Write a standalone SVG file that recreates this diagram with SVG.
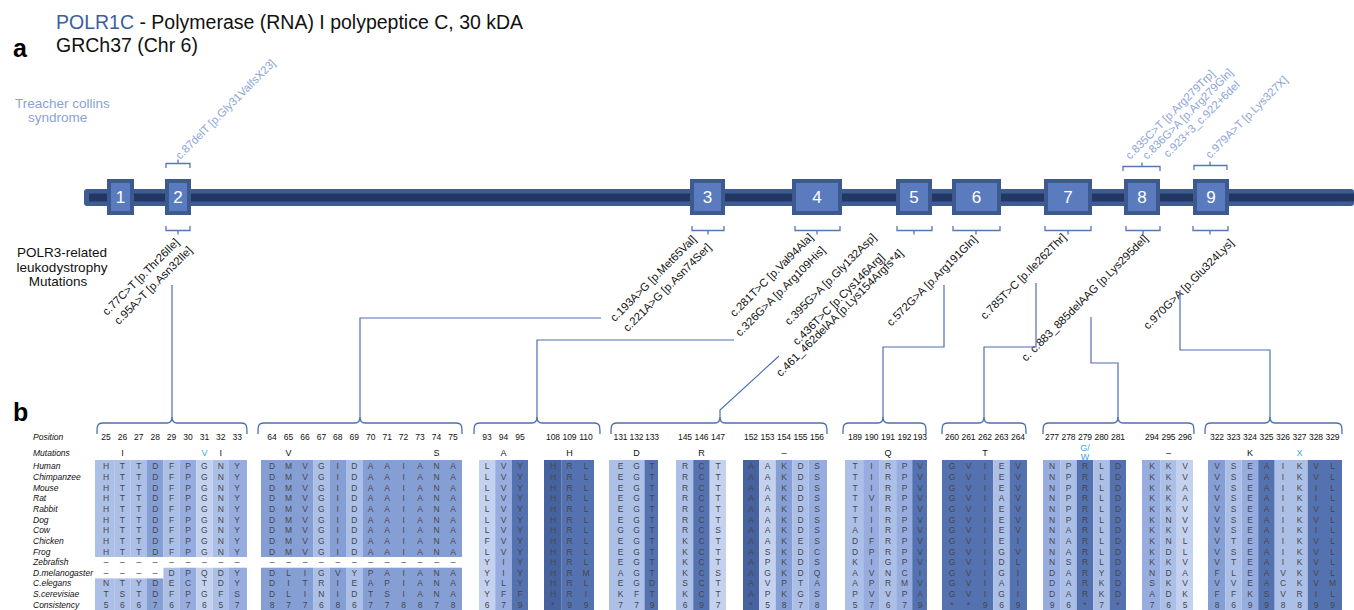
<svg xmlns="http://www.w3.org/2000/svg" width="1354" height="610" viewBox="0 0 1354 610">
<defs>
<style>
text{font-family:"Liberation Sans",Arial,sans-serif}
.ttl{font-size:19.5px;fill:#111}
.big{font-size:25px;font-weight:bold;fill:#000}
.tcs{font-size:13.5px;fill:#8aa3d8}
.plr{font-size:13.5px;fill:#111;text-anchor:middle}
.tc{font-size:11.3px;fill:#8ca4d8}
.mu{font-size:11.3px;fill:#111}
.ex{fill:#5a7cbf;stroke:#3c5990;stroke-width:4}
.exn{font-size:17px;fill:#fff;text-anchor:middle}
.sb{fill:none;stroke:#5577b8;stroke-width:1.3}
.conn{fill:none;stroke:#4c6fb4;stroke-width:1.2}
.br{fill:none;stroke:#4c6fb4;stroke-width:1.3}
.lab{font-size:8.5px;font-style:italic;fill:#111}
.pos text{font-size:8.5px;fill:#111;text-anchor:middle}
.mk{font-size:9px;fill:#111;text-anchor:middle}
.cy{fill:#3aa8e0}
.seq text{font-size:8.5px;fill:#474747;text-anchor:middle}
.L1{fill:#c4d2ef}.L2{fill:#acbfe7}.L3{fill:#97ade0}.L4{fill:#859fd5}.D1{fill:#5572b0}.D2{fill:#46639f}
</style>
</defs>
<rect width="1354" height="610" fill="#fff"/>
<g id="header">
<text class="ttl" x="56" y="29"><tspan fill="#3b5ea0">POLR1C</tspan> - Polymerase (RNA) I polypeptice C, 30 kDA</text>
<text class="ttl" x="56" y="52">GRCh37 (Chr 6)</text>
<text class="big" x="13" y="57">a</text>
<text class="big" x="13" y="421">b</text>
<text class="tcs" x="15" y="108">Treacher collins</text>
<text class="tcs" x="28" y="122">syndrome</text>
<text class="plr" x="62" y="257">POLR3-related</text>
<text class="plr" x="62" y="271.5">leukodystrophy</text>
<text class="plr" x="58" y="286">Mutations</text>
</g>
<g id="gene">
<rect x="84" y="189" width="1270" height="17" rx="3" fill="#3e5c93"/>
<rect x="89" y="193.5" width="1265" height="8" fill="#223862"/>
<g id="exon1"><rect class="ex" x="109" y="181" width="23" height="32"/><text class="exn" x="120.5" y="203">1</text></g>
<g id="exon2"><rect class="ex" x="167" y="181" width="22" height="32"/><text class="exn" x="178" y="203">2</text></g>
<g id="exon3"><rect class="ex" x="692" y="181" width="31" height="32"/><text class="exn" x="707.5" y="203">3</text></g>
<g id="exon4"><rect class="ex" x="794" y="181" width="46" height="32"/><text class="exn" x="817" y="203">4</text></g>
<g id="exon5"><rect class="ex" x="898" y="181" width="32" height="32"/><text class="exn" x="914" y="203">5</text></g>
<g id="exon6"><rect class="ex" x="954" y="181" width="45" height="32"/><text class="exn" x="976.5" y="203">6</text></g>
<g id="exon7"><rect class="ex" x="1046" y="181" width="44" height="32"/><text class="exn" x="1068" y="203">7</text></g>
<g id="exon8"><rect class="ex" x="1126" y="181" width="32" height="32"/><text class="exn" x="1142" y="203">8</text></g>
<g id="exon9"><rect class="ex" x="1195" y="181" width="32" height="32"/><text class="exn" x="1211" y="203">9</text></g>
</g>
<g id="exon-brackets">
<path class="sb" d="M166,168 V163.5 H190 V168 M178,163.5 V159.5"/>
<path class="sb" d="M1123,171 V166.5 H1160 V171 M1142,166.5 V162.5"/>
<path class="sb" d="M1194,170 V165.5 H1227 V170 M1210,165.5 V161.5"/>
<path class="sb" d="M166,226 V230.5 H190 V226 M178,230.5 V234.5"/>
<path class="sb" d="M692,226 V230.5 H724 V226 M708,230.5 V234.5"/>
<path class="sb" d="M795,226 V230.5 H840 V226 M817,230.5 V234.5"/>
<path class="sb" d="M897,226 V230.5 H932 V226 M914,230.5 V234.5"/>
<path class="sb" d="M953,226 V230.5 H1000 V226 M976,230.5 V234.5"/>
<path class="sb" d="M1045,226 V230.5 H1091 V226 M1068,230.5 V234.5"/>
<path class="sb" d="M1126,226 V230.5 H1160 V226 M1143,230.5 V234.5"/>
<path class="sb" d="M1193,226 V230.5 H1228 V226 M1210,230.5 V234.5"/>
</g>
<g id="labels-tcs">
<text class="tc" transform="translate(180,160) rotate(-45)">c.87delT [p.Gly31ValfsX23]</text>
<text class="tc" transform="translate(1130,160) rotate(-45)">c.835C&gt;T [p.Arg279Trp]</text>
<text class="tc" transform="translate(1147,160) rotate(-45)">c.836G&gt;A [p.Arg279Gln]</text>
<text class="tc" transform="translate(1168,158) rotate(-45)">c.923+3_c.922+6del</text>
<text class="tc" transform="translate(1210,159) rotate(-45)">c.979A&gt;T [p.Lys327X]</text>
</g>
<g id="labels-polr3">
<text class="mu" text-anchor="end" transform="translate(180,243) rotate(-45)">c.77C&gt;T [p.Thr26Ile]</text>
<text class="mu" text-anchor="end" transform="translate(193,251) rotate(-45)">c.95A&gt;T [p.Asn32Ile]</text>
<text class="mu" text-anchor="end" transform="translate(697,240) rotate(-45)">c.193A&gt;G [p.Met65Val]</text>
<text class="mu" text-anchor="end" transform="translate(712,248) rotate(-45)">c.221A&gt;G [p.Asn74Ser]</text>
<text class="mu" text-anchor="end" transform="translate(814,238) rotate(-45)">c.281T&gt;C [p.Val94Ala]</text>
<text class="mu" text-anchor="end" transform="translate(826,251) rotate(-45)">c.326G&gt;A [p.Arg109His]</text>
<text class="mu" text-anchor="end" transform="translate(877,238) rotate(-45)">c.395G&gt;A [p.Gly132Asp]</text>
<text class="mu" text-anchor="end" transform="translate(885,258) rotate(-45)">c.436T&gt;C [p.Cys146Arg]</text>
<text class="mu" text-anchor="end" transform="translate(904,254) rotate(-45)">c.461_462delAA [p.Lys154Argfs*4]</text>
<text class="mu" text-anchor="end" transform="translate(978,240) rotate(-45)">c.572G&gt;A [p.Arg191Gln]</text>
<text class="mu" text-anchor="end" transform="translate(1067,238) rotate(-45)">c.785T&gt;C [p.Ile262Thr]</text>
<text class="mu" transform="translate(1026,362) rotate(-45)">c. c.883_885delAAG [p.Lys295del]</text>
<text class="mu" transform="translate(1148,330) rotate(-45)">c.970G&gt;A [p.Glu324Lys]</text>
</g>
<g id="connectors">
<path class="conn" d="M172,285 V418"/>
<path class="conn" d="M601,318 H360 V418"/>
<path class="conn" d="M734,340 H537 V418"/>
<path class="conn" d="M779,356 L720,410 V418"/>
<path class="conn" d="M944,285 V347 H883 V418"/>
<path class="conn" d="M1036,283 V347 H984 V418"/>
<path class="conn" d="M1091,317 V363 H1118 V418"/>
<path class="conn" d="M1180,290 V350 H1270 V418"/>
</g>
<g id="braces">
<path class="br" d="M97,434 C97,426 97,423 103,423 H167 C171,423 172,421 172,417 C172,421 173,423 177,423 H241 C247,423 247,426 247,434"/>
<path class="br" d="M258,434 C258,426 258,423 264,423 H355 C359,423 360,421 360,417 C360,421 361,423 365,423 H456 C462,423 462,426 462,434"/>
<path class="br" d="M474,434 C474,426 474,423 480,423 H532 C536,423 537,421 537,417 C537,421 538,423 542,423 H594 C600,423 600,426 600,434"/>
<path class="br" d="M611,434 C611,426 611,423 617,423 H715 C719,423 720,421 720,417 C720,421 721,423 725,423 H821 C827,423 827,426 827,434"/>
<path class="br" d="M843,434 C843,426 843,423 849,423 H878 C882,423 883,421 883,417 C883,421 884,423 888,423 H920 C926,423 926,426 926,434"/>
<path class="br" d="M942,434 C942,426 942,423 948,423 H979 C983,423 984,421 984,417 C984,421 985,423 989,423 H1020 C1026,423 1026,426 1026,434"/>
<path class="br" d="M1043,434 C1043,426 1043,423 1049,423 H1113 C1117,423 1118,421 1118,417 C1118,421 1119,423 1123,423 H1188 C1194,423 1194,426 1194,434"/>
<path class="br" d="M1205,434 C1205,426 1205,423 1211,423 H1265 C1269,423 1270,421 1270,417 C1270,421 1271,423 1275,423 H1336 C1342,423 1342,426 1342,434"/>
</g>
<g id="row-labels">
<text class="lab" x="33" y="440">Position</text>
<text class="lab" x="33" y="456">Mutations</text>
<text class="lab" x="33" y="469.3">Human</text>
<text class="lab" x="33" y="479.95">Chimpanzee</text>
<text class="lab" x="33" y="490.6">Mouse</text>
<text class="lab" x="33" y="501.25">Rat</text>
<text class="lab" x="33" y="511.9">Rabbit</text>
<text class="lab" x="33" y="522.55">Dog</text>
<text class="lab" x="33" y="533.2">Cow</text>
<text class="lab" x="33" y="543.85">Chicken</text>
<text class="lab" x="33" y="554.5">Frog</text>
<text class="lab" x="33" y="565.15">Zebrafish</text>
<text class="lab" x="33" y="575.8">D.melanogaster</text>
<text class="lab" x="33" y="586.45">C.elegans</text>
<text class="lab" x="33" y="597.1">S.cerevisiae</text>
<text class="lab" x="33" y="607.75">Consistency</text>
</g>
<g id="shading">
<rect class="L2" x="95" y="460" width="19.2" height="97"/><rect class="L2" x="114.2" y="460" width="16.4" height="97"/><rect class="L2" x="130.6" y="460" width="16.4" height="97"/><rect class="L4" x="147" y="460" width="16.4" height="97"/><rect class="L2" x="163.4" y="460" width="16.4" height="97"/><rect class="L3" x="179.8" y="460" width="16.4" height="97"/><rect class="L1" x="196.2" y="460" width="16.4" height="97"/><rect class="L2" x="212.6" y="460" width="16.4" height="97"/><rect class="L3" x="229" y="460" width="18" height="97"/>
<rect class="L2" x="95" y="578.4" width="19.2" height="32"/><rect class="L2" x="114.2" y="578.4" width="16.4" height="32"/><rect class="L2" x="130.6" y="578.4" width="16.4" height="32"/><rect class="L4" x="147" y="578.4" width="16.4" height="32"/><rect class="L2" x="163.4" y="567.7" width="16.4" height="43"/><rect class="L3" x="179.8" y="567.7" width="16.4" height="43"/><rect class="L1" x="196.2" y="567.7" width="16.4" height="43"/><rect class="L2" x="212.6" y="567.7" width="16.4" height="43"/><rect class="L3" x="229" y="567.7" width="18" height="43"/>
<rect class="L4" x="261" y="460" width="52.1" height="97"/><rect class="L2" x="313.1" y="460" width="16.5" height="97"/><rect class="L4" x="329.6" y="460" width="16.4" height="97"/><rect class="L2" x="346" y="460" width="16.5" height="97"/><rect class="L4" x="362.5" y="460" width="99.5" height="97"/>
<rect class="L4" x="261" y="567.7" width="52.1" height="43"/><rect class="L2" x="313.1" y="567.7" width="16.5" height="43"/><rect class="L4" x="329.6" y="567.7" width="16.4" height="43"/><rect class="L2" x="346" y="567.7" width="16.5" height="43"/><rect class="L4" x="362.5" y="567.7" width="99.5" height="43"/>
<rect class="L1" x="479" y="460" width="16.2" height="150"/><rect class="L3" x="495.2" y="460" width="16.5" height="150"/><rect class="D1" x="511.7" y="460" width="16.3" height="150"/>
<rect class="D2" x="544" y="460" width="17.2" height="150"/><rect class="D1" x="561.2" y="460" width="32.8" height="150"/>
<rect class="L2" x="609" y="460" width="35.5" height="150"/><rect class="D1" x="644.5" y="460" width="13.5" height="150"/>
<rect class="L2" x="676" y="460" width="17.2" height="150"/><rect class="D1" x="693.2" y="460" width="16.5" height="150"/><rect class="L1" x="709.7" y="460" width="16.3" height="150"/>
<rect class="D2" x="743" y="460" width="16.2" height="150"/><rect class="L1" x="759.2" y="460" width="16.5" height="150"/><rect class="L4" x="775.7" y="460" width="16.5" height="150"/><rect class="L2" x="792.2" y="460" width="16.5" height="150"/><rect class="L3" x="808.7" y="460" width="18.3" height="150"/>
<rect class="L2" x="845" y="460" width="18.2" height="150"/><rect class="L3" x="863.2" y="460" width="16.5" height="150"/><rect class="L2" x="879.7" y="460" width="16.5" height="150"/><rect class="L3" x="896.2" y="460" width="16" height="150"/><rect class="D1" x="912.2" y="460" width="14.8" height="150"/>
<rect class="D1" x="942" y="460" width="51.2" height="150"/><rect class="L2" x="993.2" y="460" width="16.5" height="150"/><rect class="D1" x="1009.7" y="460" width="17.3" height="150"/>
<rect class="L3" x="1043" y="460" width="17.2" height="150"/><rect class="L2" x="1060.2" y="460" width="16.5" height="150"/><rect class="D1" x="1076.7" y="460" width="16.5" height="150"/><rect class="L2" x="1093.2" y="460" width="16.5" height="150"/><rect class="D1" x="1109.7" y="460" width="16.3" height="150"/>
<rect class="L3" x="1142" y="460" width="18.2" height="150"/><rect class="L2" x="1160.2" y="460" width="16.5" height="150"/><rect class="L1" x="1176.7" y="460" width="16.3" height="150"/>
<rect class="L4" x="1208" y="460" width="17.2" height="150"/><rect class="L2" x="1225.2" y="460" width="16.5" height="150"/><rect class="L3" x="1241.7" y="460" width="16.5" height="150"/><rect class="D1" x="1258.2" y="460" width="16.5" height="150"/><rect class="L2" x="1274.7" y="460" width="33" height="150"/><rect class="D1" x="1307.7" y="460" width="34.3" height="150"/>
</g>
<g id="positions" class="pos">
<text x="106" y="440">25</text><text x="122.4" y="440">26</text><text x="138.8" y="440">27</text><text x="155.2" y="440">28</text><text x="171.6" y="440">29</text><text x="188" y="440">30</text><text x="204.4" y="440">31</text><text x="220.8" y="440">32</text><text x="237.2" y="440">33</text>
<text x="272" y="440">64</text><text x="288.5" y="440">65</text><text x="305" y="440">66</text><text x="321.4" y="440">67</text><text x="337.8" y="440">68</text><text x="354.3" y="440">69</text><text x="370.7" y="440">70</text><text x="387.2" y="440">71</text><text x="403.6" y="440">72</text><text x="420.1" y="440">73</text><text x="436.5" y="440">74</text><text x="453" y="440">75</text>
<text x="487" y="440">93</text><text x="503.5" y="440">94</text><text x="520" y="440">95</text>
<text x="553" y="440">108</text><text x="569.5" y="440">109</text><text x="586" y="440">110</text>
<text x="620.5" y="440">131</text><text x="636.5" y="440">132</text><text x="652" y="440">133</text>
<text x="685" y="440">145</text><text x="701.5" y="440">146</text><text x="718" y="440">147</text>
<text x="751" y="440">152</text><text x="767.5" y="440">153</text><text x="784" y="440">154</text><text x="800.5" y="440">155</text><text x="817" y="440">156</text>
<text x="855" y="440">189</text><text x="871.5" y="440">190</text><text x="888" y="440">191</text><text x="904.5" y="440">192</text><text x="920" y="440">193</text>
<text x="952" y="440">260</text><text x="968.5" y="440">261</text><text x="985" y="440">262</text><text x="1001.5" y="440">263</text><text x="1018" y="440">264</text>
<text x="1052" y="440">277</text><text x="1068.5" y="440">278</text><text x="1085" y="440">279</text><text x="1101.5" y="440">280</text><text x="1118" y="440">281</text>
<text x="1152" y="440">294</text><text x="1168.5" y="440">295</text><text x="1185" y="440">296</text>
<text x="1217" y="440">322</text><text x="1233.5" y="440">323</text><text x="1250" y="440">324</text><text x="1266.5" y="440">325</text><text x="1283" y="440">326</text><text x="1299.5" y="440">327</text><text x="1316" y="440">328</text><text x="1332.5" y="440">329</text>
</g>
<g id="mutation-marks">
<text class="mk" x="122.4" y="456">I</text><text class="mk cy" x="204.4" y="456">V</text><text class="mk" x="220.8" y="456">I</text>
<text class="mk" x="288.5" y="456">V</text><text class="mk" x="436.5" y="456">S</text>
<text class="mk" x="503.5" y="456">A</text><text class="mk" x="569.5" y="456">H</text><text class="mk" x="636.5" y="456">D</text><text class="mk" x="701.5" y="456">R</text><text class="mk" x="784" y="456">–</text>
<text class="mk" x="888" y="456">Q</text><text class="mk" x="985" y="456">T</text>
<text class="mk cy" x="1085" y="451">G/</text><text class="mk cy" x="1085" y="460">W</text>
<text class="mk" x="1168.5" y="456">–</text><text class="mk" x="1250" y="456">K</text><text class="mk cy" x="1299.5" y="456">X</text>
</g>
<g id="seq-g1" class="seq">
<text x="106 122.4 138.8 155.2 171.6 188 204.4 220.8 237.2" y="469.3">HTTDFPGNY</text>
<text x="106 122.4 138.8 155.2 171.6 188 204.4 220.8 237.2" y="479.95">HTTDFPGNY</text>
<text x="106 122.4 138.8 155.2 171.6 188 204.4 220.8 237.2" y="490.6">HTTDFPGNY</text>
<text x="106 122.4 138.8 155.2 171.6 188 204.4 220.8 237.2" y="501.25">HTTDFPGNY</text>
<text x="106 122.4 138.8 155.2 171.6 188 204.4 220.8 237.2" y="511.9">HTTDFPGNY</text>
<text x="106 122.4 138.8 155.2 171.6 188 204.4 220.8 237.2" y="522.55">HTTDFPGNY</text>
<text x="106 122.4 138.8 155.2 171.6 188 204.4 220.8 237.2" y="533.2">HTTDFPGNY</text>
<text x="106 122.4 138.8 155.2 171.6 188 204.4 220.8 237.2" y="543.85">HTTDFPGNY</text>
<text x="106 122.4 138.8 155.2 171.6 188 204.4 220.8 237.2" y="554.5">HTTDFPGNY</text>
<text x="106 122.4 138.8 155.2 171.6 188 204.4 220.8 237.2" y="565.15" fill="#111">–––––––––</text>
<text x="106 122.4 138.8 155.2 171.6 188 204.4 220.8 237.2" y="575.8">––––DPQDY</text>
<text x="106 122.4 138.8 155.2 171.6 188 204.4 220.8 237.2" y="586.45">NTYDECTDY</text>
<text x="106 122.4 138.8 155.2 171.6 188 204.4 220.8 237.2" y="597.1">TSTDFPGFS</text>
<text x="106 122.4 138.8 155.2 171.6 188 204.4 220.8 237.2" y="607.75">566767657</text>
</g>
<g id="seq-g2" class="seq">
<text x="272 288.5 305 321.4 337.8 354.3 370.7 387.2 403.6 420.1 436.5 453" y="469.3">DMVGIDAAIANA</text>
<text x="272 288.5 305 321.4 337.8 354.3 370.7 387.2 403.6 420.1 436.5 453" y="479.95">DMVGIDAAIANA</text>
<text x="272 288.5 305 321.4 337.8 354.3 370.7 387.2 403.6 420.1 436.5 453" y="490.6">DMVGIDAAIANA</text>
<text x="272 288.5 305 321.4 337.8 354.3 370.7 387.2 403.6 420.1 436.5 453" y="501.25">DMVGIDAAIANA</text>
<text x="272 288.5 305 321.4 337.8 354.3 370.7 387.2 403.6 420.1 436.5 453" y="511.9">DMVGIDAAIANA</text>
<text x="272 288.5 305 321.4 337.8 354.3 370.7 387.2 403.6 420.1 436.5 453" y="522.55">DMVGIDAAIANA</text>
<text x="272 288.5 305 321.4 337.8 354.3 370.7 387.2 403.6 420.1 436.5 453" y="533.2">DMVGIDAAIANA</text>
<text x="272 288.5 305 321.4 337.8 354.3 370.7 387.2 403.6 420.1 436.5 453" y="543.85">DMVGIDAAIANA</text>
<text x="272 288.5 305 321.4 337.8 354.3 370.7 387.2 403.6 420.1 436.5 453" y="554.5">DMVGIDAAIANA</text>
<text x="272 288.5 305 321.4 337.8 354.3 370.7 387.2 403.6 420.1 436.5 453" y="565.15" fill="#111">––––––––––––</text>
<text x="272 288.5 305 321.4 337.8 354.3 370.7 387.2 403.6 420.1 436.5 453" y="575.8">DLIGVYPAIANA</text>
<text x="272 288.5 305 321.4 337.8 354.3 370.7 387.2 403.6 420.1 436.5 453" y="586.45">DITRIEAPIANA</text>
<text x="272 288.5 305 321.4 337.8 354.3 370.7 387.2 403.6 420.1 436.5 453" y="597.1">DLINIDTSIANA</text>
<text x="272 288.5 305 321.4 337.8 354.3 370.7 387.2 403.6 420.1 436.5 453" y="607.75">877686778878</text>
</g>
<g id="seq-g3" class="seq">
<text x="487 503.5 520" y="469.3">LVY</text><text x="487 503.5 520" y="479.95">LVY</text><text x="487 503.5 520" y="490.6">LVY</text><text x="487 503.5 520" y="501.25">LVY</text><text x="487 503.5 520" y="511.9">LVY</text><text x="487 503.5 520" y="522.55">LVY</text><text x="487 503.5 520" y="533.2">LVY</text><text x="487 503.5 520" y="543.85">FVY</text><text x="487 503.5 520" y="554.5">LVY</text><text x="487 503.5 520" y="565.15">YIY</text><text x="487 503.5 520" y="575.8">YIY</text><text x="487 503.5 520" y="586.45">YLY</text><text x="487 503.5 520" y="597.1">YFF</text><text x="487 503.5 520" y="607.75">679</text>
</g>
<g id="seq-g4" class="seq">
<text x="553 569.5 586" y="469.3">HRL</text><text x="553 569.5 586" y="479.95">HRL</text><text x="553 569.5 586" y="490.6">HRL</text><text x="553 569.5 586" y="501.25">HRL</text><text x="553 569.5 586" y="511.9">HRL</text><text x="553 569.5 586" y="522.55">HRL</text><text x="553 569.5 586" y="533.2">HRL</text><text x="553 569.5 586" y="543.85">HRL</text><text x="553 569.5 586" y="554.5">HRL</text><text x="553 569.5 586" y="565.15">HRL</text><text x="553 569.5 586" y="575.8">HRM</text><text x="553 569.5 586" y="586.45">HRL</text><text x="553 569.5 586" y="597.1">HRI</text><text x="553 569.5 586" y="607.75">*99</text>
</g>
<g id="seq-g5" class="seq">
<text x="620.5 636.5 652" y="469.3">EGT</text><text x="620.5 636.5 652" y="479.95">EGT</text><text x="620.5 636.5 652" y="490.6">EGT</text><text x="620.5 636.5 652" y="501.25">EGT</text><text x="620.5 636.5 652" y="511.9">EGT</text><text x="620.5 636.5 652" y="522.55">EGT</text><text x="620.5 636.5 652" y="533.2">GGT</text><text x="620.5 636.5 652" y="543.85">EGT</text><text x="620.5 636.5 652" y="554.5">EGT</text><text x="620.5 636.5 652" y="565.15">EGT</text><text x="620.5 636.5 652" y="575.8">AGT</text><text x="620.5 636.5 652" y="586.45">EGD</text><text x="620.5 636.5 652" y="597.1">KFT</text><text x="620.5 636.5 652" y="607.75">779</text>
</g>
<g id="seq-g6" class="seq">
<text x="685 701.5 718" y="469.3">RCT</text><text x="685 701.5 718" y="479.95">RCT</text><text x="685 701.5 718" y="490.6">RCT</text><text x="685 701.5 718" y="501.25">RCT</text><text x="685 701.5 718" y="511.9">RCT</text><text x="685 701.5 718" y="522.55">RCT</text><text x="685 701.5 718" y="533.2">RCS</text><text x="685 701.5 718" y="543.85">KCT</text><text x="685 701.5 718" y="554.5">KCT</text><text x="685 701.5 718" y="565.15">KCT</text><text x="685 701.5 718" y="575.8">KCS</text><text x="685 701.5 718" y="586.45">SCT</text><text x="685 701.5 718" y="597.1">KCT</text><text x="685 701.5 718" y="607.75">697</text>
</g>
<g id="seq-g7" class="seq">
<text x="751 767.5 784 800.5 817" y="469.3">AAKDS</text><text x="751 767.5 784 800.5 817" y="479.95">AAKDS</text><text x="751 767.5 784 800.5 817" y="490.6">AAKDS</text><text x="751 767.5 784 800.5 817" y="501.25">AAKDS</text><text x="751 767.5 784 800.5 817" y="511.9">AAKDS</text><text x="751 767.5 784 800.5 817" y="522.55">AAKDS</text><text x="751 767.5 784 800.5 817" y="533.2">AAKDS</text><text x="751 767.5 784 800.5 817" y="543.85">AAKES</text><text x="751 767.5 784 800.5 817" y="554.5">ASKDC</text><text x="751 767.5 784 800.5 817" y="565.15">APKDS</text><text x="751 767.5 784 800.5 817" y="575.8">AGKDQ</text><text x="751 767.5 784 800.5 817" y="586.45">AVPTA</text><text x="751 767.5 784 800.5 817" y="597.1">APKGS</text><text x="751 767.5 784 800.5 817" y="607.75">*5878</text>
</g>
<g id="seq-g8" class="seq">
<text x="855 871.5 888 904.5 920" y="469.3">TIRPV</text><text x="855 871.5 888 904.5 920" y="479.95">TIRPV</text><text x="855 871.5 888 904.5 920" y="490.6">TIRPV</text><text x="855 871.5 888 904.5 920" y="501.25">TVRPV</text><text x="855 871.5 888 904.5 920" y="511.9">TIRPV</text><text x="855 871.5 888 904.5 920" y="522.55">TIRPV</text><text x="855 871.5 888 904.5 920" y="533.2">AIRPV</text><text x="855 871.5 888 904.5 920" y="543.85">DFRPV</text><text x="855 871.5 888 904.5 920" y="554.5">DPRPV</text><text x="855 871.5 888 904.5 920" y="565.15">KIGPV</text><text x="855 871.5 888 904.5 920" y="575.8">AVNCI</text><text x="855 871.5 888 904.5 920" y="586.45">APRMV</text><text x="855 871.5 888 904.5 920" y="597.1">PVVPA</text><text x="855 871.5 888 904.5 920" y="607.75">57679</text>
</g>
<g id="seq-g9" class="seq">
<text x="952 968.5 985 1001.5 1018" y="469.3">GVIEV</text><text x="952 968.5 985 1001.5 1018" y="479.95">GVIEV</text><text x="952 968.5 985 1001.5 1018" y="490.6">GVIEV</text><text x="952 968.5 985 1001.5 1018" y="501.25">GVIAV</text><text x="952 968.5 985 1001.5 1018" y="511.9">GVIEV</text><text x="952 968.5 985 1001.5 1018" y="522.55">GVIEV</text><text x="952 968.5 985 1001.5 1018" y="533.2">GVIEV</text><text x="952 968.5 985 1001.5 1018" y="543.85">GVIEI</text><text x="952 968.5 985 1001.5 1018" y="554.5">GVIGV</text><text x="952 968.5 985 1001.5 1018" y="565.15">GVIDL</text><text x="952 968.5 985 1001.5 1018" y="575.8">GVIGI</text><text x="952 968.5 985 1001.5 1018" y="586.45">GVIAI</text><text x="952 968.5 985 1001.5 1018" y="597.1">GVIGI</text><text x="952 968.5 985 1001.5 1018" y="607.75">**969</text>
</g>
<g id="seq-g10" class="seq">
<text x="1052 1068.5 1085 1101.5 1118" y="469.3">NPRLD</text><text x="1052 1068.5 1085 1101.5 1118" y="479.95">NPRLD</text><text x="1052 1068.5 1085 1101.5 1118" y="490.6">NPRLD</text><text x="1052 1068.5 1085 1101.5 1118" y="501.25">NPRLD</text><text x="1052 1068.5 1085 1101.5 1118" y="511.9">NPRLD</text><text x="1052 1068.5 1085 1101.5 1118" y="522.55">NPRLD</text><text x="1052 1068.5 1085 1101.5 1118" y="533.2">NARLD</text><text x="1052 1068.5 1085 1101.5 1118" y="543.85">NARLD</text><text x="1052 1068.5 1085 1101.5 1118" y="554.5">NARLD</text><text x="1052 1068.5 1085 1101.5 1118" y="565.15">NSRLD</text><text x="1052 1068.5 1085 1101.5 1118" y="575.8">DARYD</text><text x="1052 1068.5 1085 1101.5 1118" y="586.45">DARKD</text><text x="1052 1068.5 1085 1101.5 1118" y="597.1">DARKD</text><text x="1052 1068.5 1085 1101.5 1118" y="607.75">96*7*</text>
</g>
<g id="seq-g11" class="seq">
<text x="1152 1168.5 1185" y="469.3">KKV</text><text x="1152 1168.5 1185" y="479.95">KKV</text><text x="1152 1168.5 1185" y="490.6">KKA</text><text x="1152 1168.5 1185" y="501.25">KKA</text><text x="1152 1168.5 1185" y="511.9">KKV</text><text x="1152 1168.5 1185" y="522.55">KNV</text><text x="1152 1168.5 1185" y="533.2">KKV</text><text x="1152 1168.5 1185" y="543.85">KNL</text><text x="1152 1168.5 1185" y="554.5">KDL</text><text x="1152 1168.5 1185" y="565.15">KKV</text><text x="1152 1168.5 1185" y="575.8">NDA</text><text x="1152 1168.5 1185" y="586.45">SKV</text><text x="1152 1168.5 1185" y="597.1">ADK</text><text x="1152 1168.5 1185" y="607.75">765</text>
</g>
<g id="seq-g12" class="seq">
<text x="1217 1233.5 1250 1266.5 1283 1299.5 1316 1332.5" y="469.3">VSEAIKVL</text><text x="1217 1233.5 1250 1266.5 1283 1299.5 1316 1332.5" y="479.95">VSEAIKVL</text><text x="1217 1233.5 1250 1266.5 1283 1299.5 1316 1332.5" y="490.6">VSEAIKIL</text><text x="1217 1233.5 1250 1266.5 1283 1299.5 1316 1332.5" y="501.25">VSEAIKIL</text><text x="1217 1233.5 1250 1266.5 1283 1299.5 1316 1332.5" y="511.9">VSEAIKVL</text><text x="1217 1233.5 1250 1266.5 1283 1299.5 1316 1332.5" y="522.55">VSEAIKVL</text><text x="1217 1233.5 1250 1266.5 1283 1299.5 1316 1332.5" y="533.2">VSEAIKIL</text><text x="1217 1233.5 1250 1266.5 1283 1299.5 1316 1332.5" y="543.85">VTEAIKVL</text><text x="1217 1233.5 1250 1266.5 1283 1299.5 1316 1332.5" y="554.5">VSEAIKVL</text><text x="1217 1233.5 1250 1266.5 1283 1299.5 1316 1332.5" y="565.15">VTEAIKVL</text><text x="1217 1233.5 1250 1266.5 1283 1299.5 1316 1332.5" y="575.8">FLEAVKVL</text><text x="1217 1233.5 1250 1266.5 1283 1299.5 1316 1332.5" y="586.45">VVEACKVM</text><text x="1217 1233.5 1250 1266.5 1283 1299.5 1316 1332.5" y="597.1">FFKSVRIL</text><text x="1217 1233.5 1250 1266.5 1283 1299.5 1316 1332.5" y="607.75">86998899</text>
</g>
</svg>
